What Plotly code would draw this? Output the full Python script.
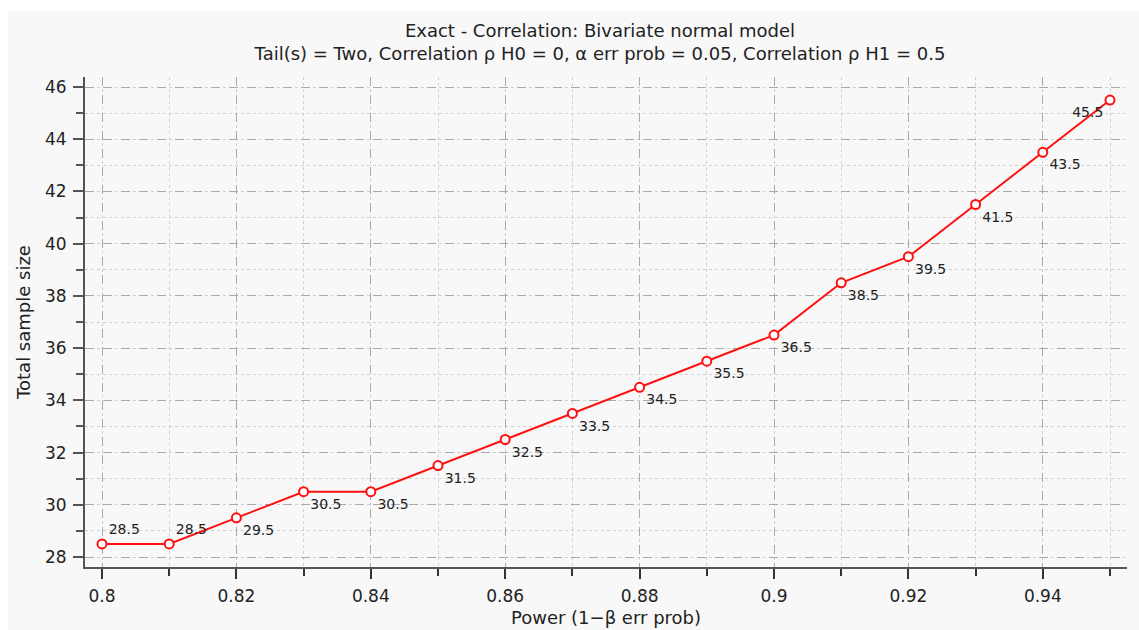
import plotly.graph_objects as go

power = [0.80, 0.81, 0.82, 0.83, 0.84, 0.85, 0.86, 0.87, 0.88, 0.89, 0.90, 0.91, 0.92, 0.93, 0.94, 0.95]
sample_size = [28.5, 28.5, 29.5, 30.5, 30.5, 31.5, 32.5, 33.5, 34.5, 35.5, 36.5, 38.5, 39.5, 41.5, 43.5, 45.5]
label_pos = ["top right", "top right"] + ["bottom right"] * 13 + ["bottom left"]
x_tickvals = [0.80, 0.82, 0.84, 0.86, 0.88, 0.90, 0.92, 0.94]
x_ticktext = ["0.8", "0.82", "0.84", "0.86", "0.88", "0.9", "0.92", "0.94"]
y_tickvals = [28, 30, 32, 34, 36, 38, 40, 42, 44, 46]

title_main = "Exact - Correlation: Bivariate normal model"
title_sub = "Tail(s) = Two, Correlation ρ H0 = 0, α err prob = 0.05, Correlation ρ H1 = 0.5"

W, H = 1139, 630
L, R, T, B = 85, 12, 77, 63
pw, ph = W - L - R, H - T - B
FONT = "DejaVu Sans"

fig = go.Figure()
fig.add_trace(go.Scatter(
    x=power, y=sample_size,
    mode="lines+markers+text",
    text=[f"{v:g}" for v in sample_size],
    textposition=label_pos,
    textfont=dict(family=FONT, size=14, color="#222222"),
    line=dict(color="#ff1010", width=2),
    marker=dict(symbol="circle", size=9, color="white", line=dict(color="#ff1010", width=2)),
    cliponaxis=False,
    showlegend=False,
))

# light panel behind chart
fig.add_shape(type="rect", xref="paper", yref="paper", layer="below",
              x0=(8 - L) / pw, x1=(W - L) / pw + 0.01,
              y0=-(B + 5) / ph, y1=(T + ph - 11) / ph,
              fillcolor="#f8f8f8", line=dict(width=0))

fig.update_layout(
    width=W, height=H,
    margin=dict(l=L, r=R, t=T, b=B),
    paper_bgcolor="white",
    plot_bgcolor="#efefef",
    title=dict(
        text=title_main + "<br>" + title_sub,
        x=(L + pw / 2 - 6) / W, xanchor="center", xref="container",
        y=1 - 37 / H, yanchor="top", yref="container",
        font=dict(family=FONT, size=18, color="#222222"),
    ),
    xaxis=dict(
        range=[0.79747, 0.95253],
        tickvals=x_tickvals, ticktext=x_ticktext,
        ticks="outside", ticklen=10, tickwidth=2, tickcolor="#333333",
        ticklabelstandoff=3,
        showline=True, linecolor="#555555", linewidth=2,
        showgrid=True, gridcolor="#aaaaaa", griddash="dash", gridwidth=1,
        zeroline=False, automargin=False,
        minor=dict(dtick=0.01, tick0=0.8, ticks="outside", ticklen=7, tickwidth=2, tickcolor="#333333",
                   showgrid=True, gridcolor="#d0d0d0", griddash="dot", gridwidth=1),
        tickfont=dict(family=FONT, size=17, color="#222222"),
        title=dict(text="Power (1−β err prob)", font=dict(family=FONT, size=18, color="#222222"), standoff=6),
    ),
    yaxis=dict(
        range=[27.617, 46.383],
        tickvals=y_tickvals,
        ticks="outside", ticklen=10, tickwidth=2, tickcolor="#555555",
        ticklabelstandoff=3,
        showline=True, linecolor="#555555", linewidth=2,
        showgrid=True, gridcolor="#aaaaaa", griddash="dash", gridwidth=1,
        zeroline=False, automargin=False,
        minor=dict(dtick=1, tick0=28, ticks="outside", ticklen=7, tickwidth=2, tickcolor="#555555",
                   showgrid=True, gridcolor="#d0d0d0", griddash="dot", gridwidth=1),
        tickfont=dict(family=FONT, size=17, color="#222222"),
        title=dict(text="Total sample size", font=dict(family=FONT, size=18, color="#222222"), standoff=10),
    ),
)

fig.write_html("out.html")
